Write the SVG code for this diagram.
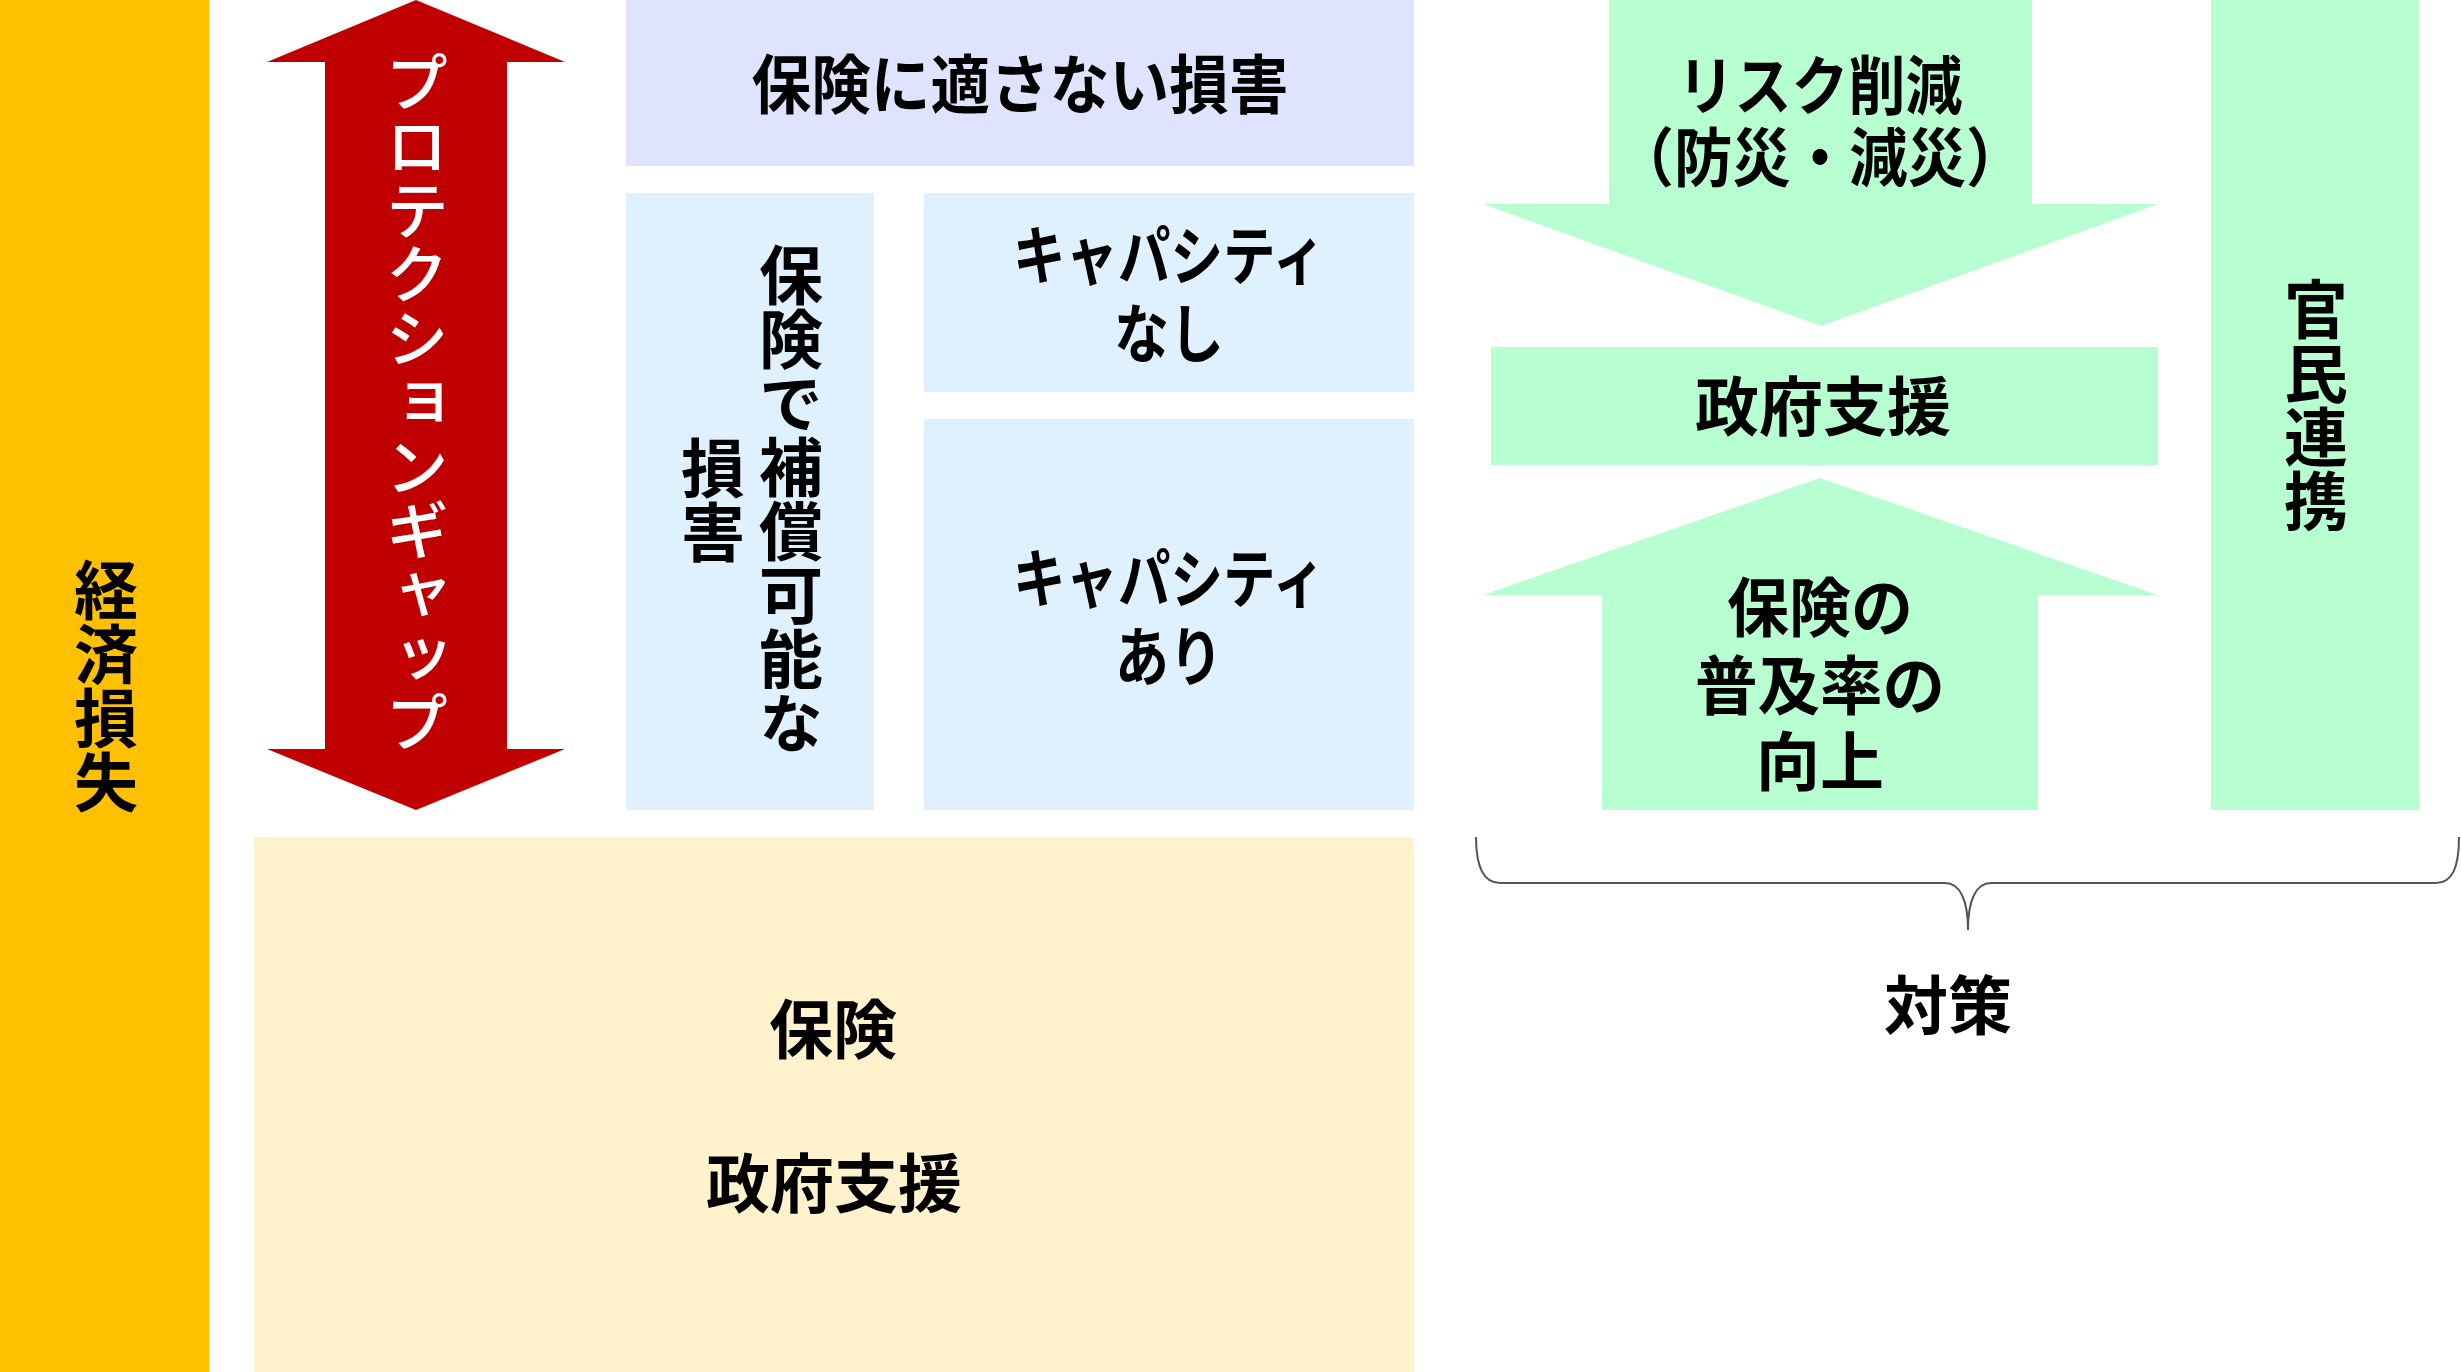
<svg xmlns="http://www.w3.org/2000/svg" width="2461" height="1372" viewBox="0 0 2461 1372">
<style>
text{font-family:"Noto Sans CJK JP","Noto Sans CJK SC",sans-serif;font-size:64px;font-weight:bold;fill:#000;text-anchor:middle}
.v{writing-mode:vertical-rl}
.w{fill:#fff;font-weight:500}
.mint{fill:#B7FFD0}
.blue{fill:#DFF1FE}
</style>
<rect width="2461" height="1372" fill="#fff"/>
<g id="economic-loss">
<rect x="0" y="0" width="209" height="1372" fill="#FFC000"/>
<text class="v" x="106" y="686">経済損失</text>
</g>
<g id="protection-gap">
<polygon points="416,0 565,62 507,62 507,749 565,749 416,810 267,749 325,749 325,62 267,62" fill="#C00000"/>
<text class="v w" x="417" y="402">プロテクションギャップ</text>
</g>
<g id="uninsurable">
<rect x="626" y="0" width="788" height="166" fill="#DFE3FD"/>
<text x="1020" y="108" textLength="537" lengthAdjust="spacingAndGlyphs">保険に適さない損害</text>
</g>
<g id="insurable">
<rect class="blue" x="626" y="193" width="248" height="617"/>
<text class="v" x="791" y="499">保険で補償可能な</text>
<text class="v" x="713" y="500">損害</text>
</g>
<g id="no-capacity">
<rect class="blue" x="924" y="193" width="490" height="199"/>
<text x="1169" y="279" textLength="312" lengthAdjust="spacingAndGlyphs">キャパシティ</text>
<text x="1169" y="357" textLength="110" lengthAdjust="spacingAndGlyphs">なし</text>
</g>
<g id="with-capacity">
<rect class="blue" x="924" y="419" width="490" height="391"/>
<text x="1169" y="602" textLength="312" lengthAdjust="spacingAndGlyphs">キャパシティ</text>
<text x="1169" y="680" textLength="108" lengthAdjust="spacingAndGlyphs">あり</text>
</g>
<g id="insurance-gov">
<rect x="254" y="837" width="1160" height="535" fill="#FFF2CC"/>
<text x="833" y="1053">保険</text>
<text x="834" y="1207">政府支援</text>
</g>
<g id="risk-reduction">
<polygon class="mint" points="1609,0 2032,0 2032,204 2158,204 1821,326 1483,204 1609,204"/>
<text x="1820" y="109" textLength="285" lengthAdjust="spacingAndGlyphs">リスク削減</text>
<text x="1820" y="181" textLength="409" lengthAdjust="spacingAndGlyphs">（防災・減災）</text>
</g>
<g id="gov-support">
<rect class="mint" x="1491" y="347" width="667" height="118"/>
<text x="1823" y="430">政府支援</text>
</g>
<g id="insurance-penetration">
<polygon class="mint" points="1820,478 2158,595 2038,595 2038,810 1602,810 1602,595 1483,595"/>
<text x="1820" y="631" textLength="186" lengthAdjust="spacingAndGlyphs">保険の</text>
<text x="1820" y="709" textLength="250" lengthAdjust="spacingAndGlyphs">普及率の</text>
<text x="1820" y="785">向上</text>
</g>
<g id="ppp">
<rect class="mint" x="2211" y="0" width="208" height="810"/>
<text class="v" x="2316" y="405">官民連携</text>
</g>
<g id="connectors">
<path d="M1476,837 C1476,868 1484,883 1500,883 L1945,883 C1960,883 1968,900 1968,930 C1968,900 1976,883 1991,883 L2436,883 C2452,883 2459,868 2459,837" fill="none" stroke="#555" stroke-width="2"/>
</g>
<g id="measures">
<text x="1948" y="1029">対策</text>
</g>
</svg>
